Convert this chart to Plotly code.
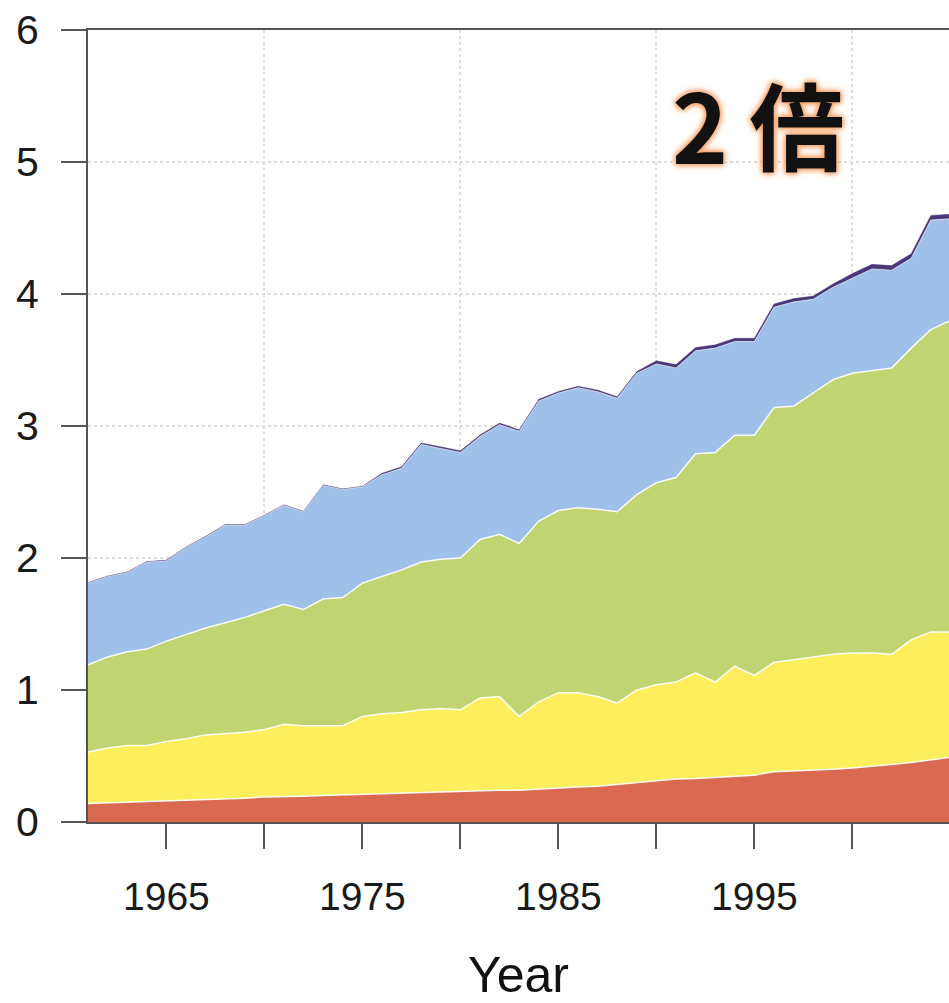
import plotly.graph_objects as go

# Years on the horizontal axis
years = list(range(1961, 2006))

# Layer values, stacked bottom to top
red_layer = [0.14, 0.145, 0.15, 0.15, 0.16, 0.165, 0.17, 0.175, 0.18, 0.19,
             0.19, 0.195, 0.20, 0.205, 0.21, 0.215, 0.22, 0.225, 0.23, 0.23,
             0.235, 0.24, 0.24, 0.25, 0.26, 0.265, 0.27, 0.285, 0.295, 0.31,
             0.325, 0.33, 0.34, 0.35, 0.355, 0.38, 0.385, 0.39, 0.40, 0.41,
             0.42, 0.435, 0.45, 0.47, 0.49]
yellow_layer = [0.39, 0.415, 0.43, 0.43, 0.45, 0.465, 0.49, 0.495, 0.50, 0.51,
                0.55, 0.535, 0.53, 0.525, 0.59, 0.605, 0.61, 0.625, 0.63, 0.62,
                0.705, 0.71, 0.56, 0.66, 0.72, 0.715, 0.68, 0.615, 0.705, 0.73,
                0.735, 0.80, 0.72, 0.83, 0.755, 0.83, 0.845, 0.86, 0.87, 0.87,
                0.86, 0.835, 0.93, 0.97, 0.95]
green_layer = [0.66, 0.69, 0.71, 0.73, 0.76, 0.79, 0.81, 0.84, 0.87, 0.90,
               0.91, 0.88, 0.96, 0.97, 1.01, 1.04, 1.08, 1.12, 1.13, 1.15,
               1.20, 1.23, 1.31, 1.37, 1.38, 1.40, 1.42, 1.45, 1.48, 1.53,
               1.55, 1.66, 1.74, 1.75, 1.82, 1.93, 1.92, 2.00, 2.08, 2.12,
               2.14, 2.17, 2.21, 2.29, 2.36]
blue_layer = [0.62, 0.61, 0.60, 0.66, 0.61, 0.66, 0.69, 0.74, 0.70, 0.72,
              0.75, 0.74, 0.86, 0.82, 0.73, 0.77, 0.77, 0.89, 0.84, 0.80,
              0.78, 0.83, 0.85, 0.91, 0.89, 0.91, 0.89, 0.86, 0.92, 0.90,
              0.83, 0.78, 0.79, 0.71, 0.71, 0.76, 0.79, 0.71, 0.70, 0.72,
              0.77, 0.74, 0.68, 0.83, 0.77]
purple_layer = [0.004] * 15 + [0.012] * 14 + [0.025] * 10 + [0.035] * 6

x_ticks = [1965, 1975, 1985, 1995, 2005]
x_grid = [1970, 1980, 1990, 2000]
y_ticks = [0, 1, 2, 3, 4, 5, 6]

# (values, fill colour, edge colour, edge width)
layers = [
    (red_layer, "#D9694F", "rgba(255,255,255,0.9)", 1.5),
    (yellow_layer, "#FCEE5C", "rgba(255,255,255,0.9)", 1.5),
    (green_layer, "#C0D571", "rgba(255,255,255,0.9)", 1.5),
    (blue_layer, "#9FC0E8", "rgba(255,255,255,0.6)", 1.0),
    (purple_layer, "#4A3878", "rgba(74,56,120,0.6)", 0.6),
]

fig = go.Figure()
for vals, fill, edge, lw in layers:
    fig.add_trace(go.Scatter(
        x=years, y=vals, mode="lines", stackgroup="all",
        fillcolor=fill, line=dict(color=edge, width=lw),
        hoverinfo="skip", showlegend=False,
    ))

axis_col = "#555555"
fig.update_layout(
    width=949, height=1003,
    margin=dict(l=88, r=0, t=30, b=181),
    paper_bgcolor="white", plot_bgcolor="white",
    font=dict(family="Liberation Sans, Arial, sans-serif", color="#1a1a1a"),
    xaxis=dict(
        range=[1961, 2004.93], tickmode="array", tickvals=x_ticks,
        ticks="outside", ticklen=25, tickwidth=2, tickcolor=axis_col,
        showline=True, linecolor=axis_col, linewidth=2, mirror=True,
        showgrid=False, zeroline=False, ticklabelstandoff=14,
        tickfont=dict(size=39, color="#1a1a1a"),
        minor=dict(tickvals=x_grid, ticks="outside", ticklen=25, tickwidth=2,
                   tickcolor=axis_col, showgrid=True, gridcolor="#DDDDDD",
                   griddash="dot", gridwidth=1.5),
        title=dict(text="Year", font=dict(size=50, color="#111111"), standoff=46),
    ),
    yaxis=dict(
        range=[0, 6], tickmode="array", tickvals=y_ticks,
        ticks="outside", ticklen=25, tickwidth=2, tickcolor=axis_col,
        showline=True, linecolor=axis_col, linewidth=2,
        showgrid=True, gridcolor="#DDDDDD", griddash="dot", gridwidth=1.5,
        zeroline=False, ticklabelstandoff=14,
        tickfont=dict(size=41, color="#1a1a1a"),
    ),
)

fig.add_annotation(
    x=1995.2, y=5.3, xref="x", yref="y", text="<b>2 倍</b>", showarrow=False,
    font=dict(family="Noto Sans CJK JP", size=95, color="#111111",
              shadow="0 0 5px #F6A46A, 0 0 5px #F6A46A, 0 0 9px #F6A46A"),
)

fig.write_html("out.html")
